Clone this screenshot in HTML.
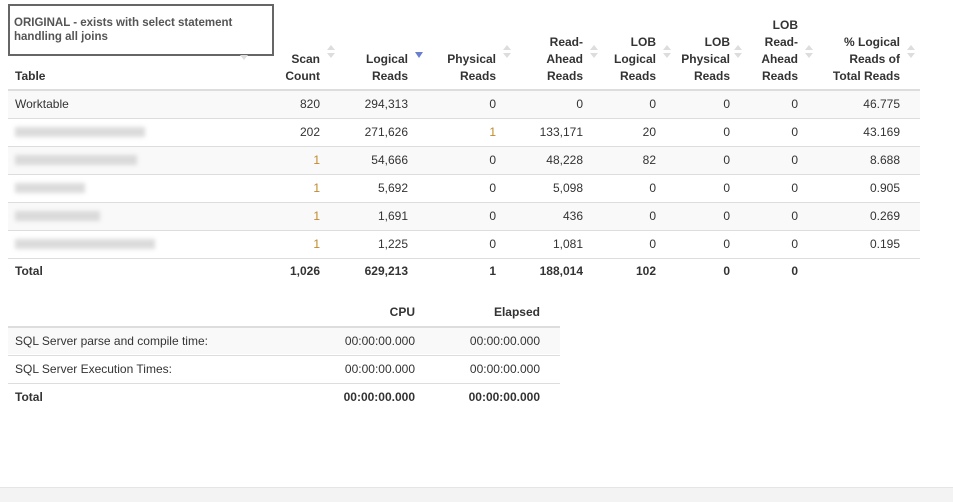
<!DOCTYPE html><html><head><style>
body{margin:0;width:953px;height:501px;background:#fff;font-family:"Liberation Sans",sans-serif;font-size:12px;color:#333;position:relative;overflow:hidden}
.a{position:absolute;white-space:nowrap;line-height:17px}
.r{text-align:right}
.b{font-weight:bold}
.h{border-top:1px solid #ddd;position:absolute;left:8px;width:912px}
.s{position:absolute;left:8px;width:912px;height:27px;background:#f9f9f9}
.blur{position:absolute;height:10px;background:#d2d2d2;filter:blur(2px);opacity:.8}
.o{color:#c08a2a}
.ar{position:absolute;width:0;height:0;border-left:4px solid transparent;border-right:4px solid transparent}
</style></head><body>
<div style="position:absolute;left:8px;top:4px;width:262px;height:48px;border:2px solid #666;"></div>
<div class="a b" style="left:14px;top:16px;line-height:14px;font-size:11.5px;color:#555">ORIGINAL - exists with select statement<br>handling all joins</div>

<div class="s" style="top:91px"></div>
<div class="s" style="top:147px"></div>
<div class="s" style="top:203px"></div>
<div class="h" style="top:89px;border-top:2px solid #ddd"></div>
<div class="h" style="top:118px"></div><div class="h" style="top:146px"></div><div class="h" style="top:174px"></div><div class="h" style="top:202px"></div><div class="h" style="top:230px"></div><div class="h" style="top:258px"></div>

<div class="s" style="top:327px;width:552px"></div>
<div class="h" style="top:326px;width:552px;border-top:2px solid #ddd"></div>
<div class="h" style="top:355px;width:552px"></div>
<div class="h" style="top:383px;width:552px"></div>
<div style="position:absolute;left:0;top:487px;width:953px;height:14px;background:#f3f3f3;border-top:1px solid #e5e5e5"></div>
<div id="t"></div>
<script>
var H='';
function c(x,y,t,cl,right){H+='<div class="a '+(cl||'')+'" style="'+(right?'right:'+(953-x)+'px':'left:'+x+'px')+';top:'+(y-8)+'px">'+t+'</div>';}
var R=[320,408,496,583,656,730,798,900];
var hd=[['','Scan','Count'],['','Logical','Reads'],['','Physical','Reads'],['Read-','Ahead','Reads'],['LOB','Logical','Reads'],['LOB','Physical','Reads'],['LOB\nRead-','Ahead','Reads'],['% Logical','Reads of','Total Reads']];
c(15,76,'Table','b');
hd.forEach(function(h,i){var x=R[i];
 if(i==6){c(x,25,'LOB','b r',1);c(x,42,'Read-','b r',1);}else if(h[0])c(x,42,h[0],'b r',1);
 c(x,59,h[1],'b r',1);c(x,76,h[2],'b r',1);
 var ax=x+(i==5?4:7);
 if(i==1)H+='<div class="ar" style="left:'+(x+7)+'px;top:52px;border-top:6px solid #6a7fd0"></div>';
 else H+='<div class="ar" style="left:'+ax+'px;top:45px;border-bottom:5px solid #ddd"></div><div class="ar" style="left:'+ax+'px;top:53px;border-top:5px solid #ddd"></div>';
});
H+='<div class="ar" style="left:240px;top:55px;border-top:5px solid #ddd"></div>';
var rows=[['Worktable','820','294,313','0','0','0','0','0','46.775'],
[130,'202','271,626','1','133,171','20','0','0','43.169'],
[122,'1','54,666','0','48,228','82','0','0','8.688'],
[70,'1','5,692','0','5,098','0','0','0','0.905'],
[85,'1','1,691','0','436','0','0','0','0.269'],
[140,'1','1,225','0','1,081','0','0','0','0.195']];
rows.forEach(function(r,j){var y=104+28*j;
 if(typeof r[0]=='string')c(15,y,r[0]);else H+='<div class="blur" style="left:15px;top:'+(y-5)+'px;width:'+r[0]+'px"></div>';
 for(var i=1;i<9;i++)c(R[i-1],y,r[i],'r'+((i==1&&j>0&&r[i]=='1')||(i==3&&r[i]=='1')?' o':''),1);
});
c(15,271,'Total','b');
['1,026','629,213','1','188,014','102','0','0'].forEach(function(v,i){c(R[i],271,v,'b r',1);});
c(415,312,'CPU','b r',1);c(540,312,'Elapsed','b r',1);
[['SQL Server parse and compile time:',341,''],['SQL Server Execution Times:',369,''],['Total',397,'b']].forEach(function(r){
 c(15,r[1],r[0],r[2]);c(415,r[1],'00:00:00.000',r[2]+' r',1);c(540,r[1],'00:00:00.000',r[2]+' r',1);});
document.getElementById('t').innerHTML=H;
</script>
</body></html>
